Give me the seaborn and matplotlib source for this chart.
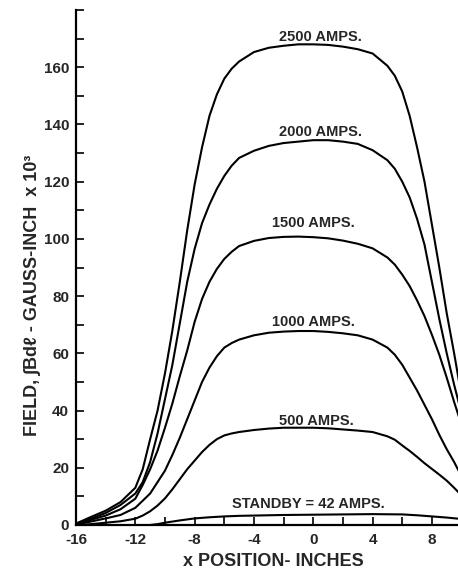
import numpy as np
import pandas as pd
import matplotlib
matplotlib.use("Agg")
import matplotlib.pyplot as plt
from matplotlib.ticker import MultipleLocator
import seaborn as sns

# ---- data ----
x_pos = [-16, -15, -14, -13, -12, -11.5, -11, -10.5, -10, -9.5, -9, -8.5, -8, -7.5,
         -7, -6.5, -6, -5.5, -5, -4, -3, -2, -1, 0, 1, 2, 3, 4, 5, 5.5, 6, 6.5, 7, 7.5,
         8, 8.5, 9, 9.5, 10]

amps_2500 = [0.5, 2.8, 5, 8, 13, 19.5, 30, 40, 53, 68, 85, 103, 119, 132,
             143, 150.5, 156, 159.5, 162, 165.3, 166.8, 167.5, 168, 168, 167.8, 167.2, 166.3,
             164.8, 160.5, 157, 151.5, 143, 132, 120, 105, 90, 74, 60, 45]
amps_2000 = [0.4, 2.2, 4.2, 7, 11, 15, 22, 32, 44, 56, 70.5, 85, 96.5, 105.5,
             112, 117.5, 122, 125.6, 128.3, 130.8, 132.5, 133.5, 134, 134.5, 134.5, 134, 133.2,
             131, 127.5, 124.5, 120, 114.5, 107, 98, 85, 72, 60, 49, 39]
amps_1500 = [0.3, 1.8, 3.3, 5.5, 9.2, 14, 19.5, 26, 34, 42.5, 52, 61, 71, 79,
             85, 89.5, 93, 95.5, 97.5, 99.3, 100.3, 100.7, 100.8, 100.6, 100.2, 99.4, 98.3,
             96.7, 93.5, 91, 87.5, 83.5, 78.5, 73, 66.5, 59.5, 51.5, 43, 35]
amps_1000 = [0.2, 1.2, 2.3, 3.5, 6, 8.5, 11, 15, 19, 24.5, 30.5, 37, 43.5, 50,
             55, 59, 62, 63.6, 64.8, 66.3, 67.2, 67.6, 67.8, 67.8, 67.5, 67, 66.3,
             64.8, 62, 59.5, 56, 51.5, 47, 42, 37, 31.5, 26.5, 22, 17]
amps_500 = [0, 0.3, 0.8, 1.3, 2.2, 3.3, 4.8, 6.8, 9.3, 12.5, 16, 19.5, 22.5, 25.5,
            28, 30, 31.3, 32, 32.5, 33.2, 33.7, 34, 34, 34, 33.8, 33.4, 33,
            32.5, 31, 29.8, 27.8, 25.9, 23.8, 21.6, 19.6, 17.6, 15.5, 13, 10.3]

x_standby = [-11, -10.5, -10, -9, -8, -7, -6, -5, -4, -2, 0, 2, 4, 6, 7, 8, 9, 10]
standby = [0, 0.3, 0.8, 1.6, 2.3, 2.7, 3.0, 3.2, 3.3, 3.5, 3.6, 3.7, 3.8, 3.7,
           3.4, 3.0, 2.6, 2.1]

curve_labels = ["2500 AMPS.", "2000 AMPS.", "1500 AMPS.", "1000 AMPS.",
                "500 AMPS.", "STANDBY = 42 AMPS."]
label_x = [0.5, 0.5, 0.0, 0.0, 0.2, -0.3]
label_y = [170.5, 137.5, 105.5, 71, 36.5, 7.3]

x_ticks = [-16, -12, -8, -4, 0, 4, 8]
y_ticks = [0, 20, 40, 60, 80, 100, 120, 140, 160]

# ---- build long-form table ----
frames = []
for name, vals in [("2500", amps_2500), ("2000", amps_2000), ("1500", amps_1500),
                   ("1000", amps_1000), ("500", amps_500)]:
    frames.append(pd.DataFrame({"x": x_pos, "field": vals, "curve": name}))
frames.append(pd.DataFrame({"x": x_standby, "field": standby, "curve": "42"}))
df = pd.concat(frames, ignore_index=True)

sns.set_style("ticks")
plt.rcParams["font.family"] = ["Liberation Sans", "DejaVu Sans"]
plt.rcParams["axes.unicode_minus"] = False

fig = plt.figure(figsize=(4.58, 5.79), dpi=100)
ax = fig.add_axes([76 / 458, 54 / 579, 382 / 458, 515 / 579])

for name in df["curve"].unique():
    sub = df[df["curve"] == name]
    sns.lineplot(data=sub, x="x", y="field", ax=ax, color="black", lw=1.5,
                 estimator=None, sort=False, legend=False)

ax.set_xlim(-16, 9.76)
ax.set_ylim(0, 180)
ax.set_xticks(x_ticks)
ax.set_xticklabels([str(t) for t in x_ticks])
ax.set_yticks(y_ticks)
ax.set_yticklabels([str(t) for t in y_ticks])
ax.xaxis.set_minor_locator(MultipleLocator(2))
ax.yaxis.set_minor_locator(MultipleLocator(10))
ax.tick_params(axis="both", which="both", direction="in", length=6, width=1.2,
               color="black")
ax.tick_params(axis="x", which="major", pad=6, labelsize=11)
ax.tick_params(axis="y", which="major", pad=5, labelsize=11)
for lab in ax.get_xticklabels() + ax.get_yticklabels():
    lab.set_fontweight("bold")

for side in ["top", "right"]:
    ax.spines[side].set_visible(False)
for side in ["left", "bottom"]:
    ax.spines[side].set_linewidth(1.6)
    ax.spines[side].set_color("black")

ax.set_xlabel("")
ax.set_ylabel("")
fig.text(273 / 458, 1 - 561 / 579, "x POSITION- INCHES", ha="center", va="center",
         fontsize=13, fontweight="bold")
fig.text(33 / 458, 1 - 295 / 579, "FIELD, \u222bBd\u2113 - GAUSS-INCH  x 10\u00b3",
         rotation=90, ha="center", va="center", fontsize=13, fontweight="bold")

for txt, tx, ty in zip(curve_labels, label_x, label_y):
    ax.text(tx, ty, txt, ha="center", va="center", fontsize=10.5, fontweight="bold")

fig.savefig("out.png", dpi=100, facecolor="white")
